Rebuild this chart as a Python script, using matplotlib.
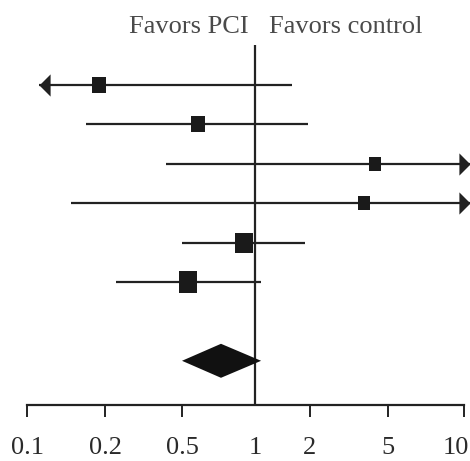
import numpy as np
import matplotlib
matplotlib.use("Agg")
import matplotlib.pyplot as plt
import matplotlib.transforms as mtransforms
from matplotlib.ticker import FixedLocator, FixedFormatter, NullLocator

# odds ratio per study
estimates = [0.19, 0.58, 4.29, 3.75, 0.90, 0.53]
ci_low = [0.05, 0.169, 0.413, 0.148, 0.50, 0.228]   # 0.05 -> below axis range (arrow)
ci_high = [1.59, 1.95, 20.0, 20.0, 1.88, 1.08]      # 20 -> above axis range (arrow)
weights = [13.5, 13.5, 11.5, 9.7, 23.1, 28.8]       # percent, gives square size

pooled_est = 0.724
pooled_low = 0.50
pooled_high = 1.08

tick_vals = [0.1, 0.2, 0.5, 1, 2, 5, 10]
tick_labels = ["0.1", "0.2", "0.5", "1", "2", "5", "10"]

# the printed axis is not a true log axis, spacing taken from the figure
scale_logs = np.log10([0.01] + tick_vals + [100])
scale_pos = np.array([-259, 0, 78, 155, 228, 283, 361, 437, 689], dtype=float)


def forward(x):
    x = np.asarray(x, dtype=float)
    return np.interp(np.log10(np.clip(x, 1e-6, None)), scale_logs, scale_pos)


def inverse(p):
    return 10 ** np.interp(np.asarray(p, dtype=float), scale_pos, scale_logs)


W, H = 470, 461
fig = plt.figure(figsize=(W / 100, H / 100), dpi=100)
ax = fig.add_axes([27 / W, 1 - 405 / H, (464 - 27) / W, (405 - 45) / H])
ax.set_xscale("function", functions=(forward, inverse))
ax.set_xlim(0.1, 10)

row_px = 39.4
ax.set_ylim((405 - 85) / row_px, (45 - 85) / row_px)

line_col = "#222222"
text_col = "#4a4a4a"
arrow_left_tip = 0.111
arrow_right_tip = 10.55

left_arrow = [(0, 0), (1, 1), (1, -1), (0, 0)]
right_arrow = [(0, 0), (-1, 1), (-1, -1), (0, 0)]
box = [(-1, -1.2), (1, -1.2), (1, 1.2), (-1, 1.2), (-1, -1.2)]

for i in range(len(estimates)):
    lo = ci_low[i]
    hi = ci_high[i]
    x0 = arrow_left_tip if lo < 0.1 else lo
    x1 = arrow_right_tip if hi > 10 else hi
    ax.plot([x0, x1], [i, i], color=line_col, lw=1.6, clip_on=False,
            solid_capstyle="butt")
    if lo < 0.1:
        ax.plot(arrow_left_tip, i, marker=left_arrow, ms=16, color=line_col,
                mew=0, clip_on=False)
    if hi > 10:
        ax.plot(arrow_right_tip, i, marker=right_arrow, ms=16, color=line_col,
                mew=0, clip_on=False)
    side = 3.54 * np.sqrt(weights[i])
    ax.plot(estimates[i], i, marker=box, ms=side * 1.2 * 0.72, color="#1a1a1a",
            mew=0, clip_on=False, zorder=3)

# pooled diamond
yp = 7
dh = 17 / row_px
ax.fill([pooled_low, pooled_est, pooled_high, pooled_est],
        [yp, yp - dh, yp, yp + dh], color="#111111", lw=0, zorder=3)

ax.axvline(1, color=line_col, lw=1.6, zorder=2)

for s in ["top", "right", "left"]:
    ax.spines[s].set_visible(False)
ax.spines["bottom"].set_color(line_col)
ax.spines["bottom"].set_linewidth(1.6)
ax.set_yticks([])

ax.xaxis.set_major_locator(FixedLocator(tick_vals))
ax.xaxis.set_major_formatter(FixedFormatter(tick_labels))
ax.xaxis.set_minor_locator(NullLocator())
ax.tick_params(axis="x", direction="out", length=8.6, width=1.4, color=line_col,
               pad=14.5, labelsize=19, labelcolor="#2a2a2a")
for lab in ax.get_xticklabels():
    lab.set_fontfamily("Liberation Serif")
ax.xaxis.get_major_ticks()[3].tick1line.set_visible(False)

# nudge the last label in so it stays inside the figure
last = ax.xaxis.get_major_ticks()[-1].label1
shift = mtransforms.ScaledTranslation(-8 / 100, 0, fig.dpi_scale_trans)
last.set_transform(last.get_transform() + shift)

ax.annotate("Favors PCI", xy=(1, 1), xycoords=("data", "axes fraction"),
            xytext=(-4.3, 8.6), textcoords="offset points", ha="right",
            va="baseline", fontsize=19, family="Liberation Serif", color=text_col)
ax.annotate("Favors control", xy=(1, 1), xycoords=("data", "axes fraction"),
            xytext=(10, 8.6), textcoords="offset points", ha="left",
            va="baseline", fontsize=19, family="Liberation Serif", color=text_col)

fig.savefig("out.png", dpi=100)
